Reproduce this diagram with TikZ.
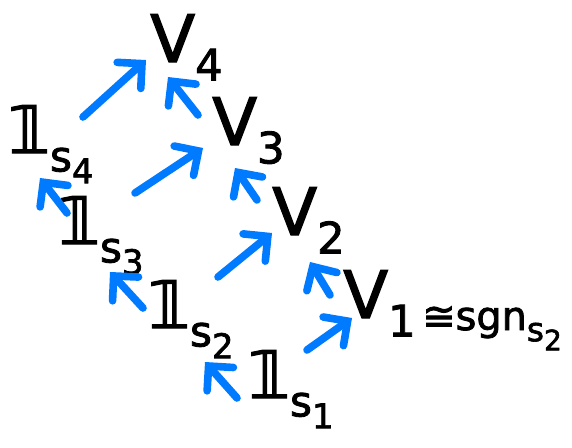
\documentclass[tikz,border=0pt]{standalone}
\usepackage{fontspec}
\setmainfont{DejaVu Sans}[FakeBold=2]
\usetikzlibrary{arrows.meta}
\definecolor{ablue}{RGB}{0,122,255}
\newcommand{\lowsub}[2]{\raisebox{-0.28em}{\fontsize{#1}{#1}\selectfont #2}}
\newcommand{\trivrep}[1]{𝟙\lowsub{36}{s\lowsub{29}{#1}}}

\begin{document}
\begin{tikzpicture}[x=0.03cm, y=-0.03cm,
  rep/.style={inner sep=0pt, anchor=base west, font=\fontsize{56}{56}\selectfont},
  inc/.style={ablue, line width=6.5pt, line cap=round,
    -{Straight Barb[length=15pt, width=30pt, line cap=round]}}]
  \useasboundingbox (0,0) rectangle (572,447);
  % trivial reps on the left, V's on the right
  \node[rep] (s1) at (248,398) {\trivrep{1}};
  \node[rep] (s2) at (148,328) {\trivrep{2}};
  \node[rep] (s3) at (58,244) {\trivrep{3}};
  \node[rep] (s4) at (8,153) {\trivrep{4}};
  \node[rep] (V1) at (343,318) {V\lowsub{37}{1}};
  \node[rep] (V2) at (272,235) {V\lowsub{37}{2}};
  \node[rep] (V3) at (212,145) {V\lowsub{37}{3}};
  \node[rep] (V4) at (150,62) {V\lowsub{37}{4}};
  \node[rep, font=\fontsize{34}{34}\selectfont] (sgn) at (422,330) {≅sgn\lowsub{28}{s\lowsub{24}{2}}};
  % inclusions
  \draw[inc] ([shift={(-11,0)}]s1.base west) -- ([shift={(57,34)}]s2.base west);
  \draw[inc] ([shift={(59,-48)}]s1.base west) -- ([shift={(9,0)}]V1.base west);
  \draw[inc] ([shift={(-5,-20)}]s2.base west) -- ([shift={(52,28)}]s3.base west);
  \draw[inc] ([shift={(70,-51)}]s2.base west) -- ([shift={(0,-2)}]V2.base west);
  \draw[inc] ([shift={(-13,-23)}]V1.base west) -- ([shift={(38,27)}]V2.base west);
  \draw[inc] ([shift={(9,-31)}]s3.base west) -- ([shift={(32,25)}]s4.base west);
  \draw[inc] ([shift={(77,-51)}]s3.base west) -- ([shift={(-9,3)}]V3.base west);
  \draw[inc] ([shift={(-15,-35)}]V2.base west) -- ([shift={(23,23)}]V3.base west);
  \draw[inc] ([shift={(75,-36)}]s4.base west) -- ([shift={(-4,-2)}]V4.base west);
  \draw[inc] ([shift={(-14,-30)}]V3.base west) -- ([shift={(18,15)}]V4.base west);
\end{tikzpicture}
\end{document}
